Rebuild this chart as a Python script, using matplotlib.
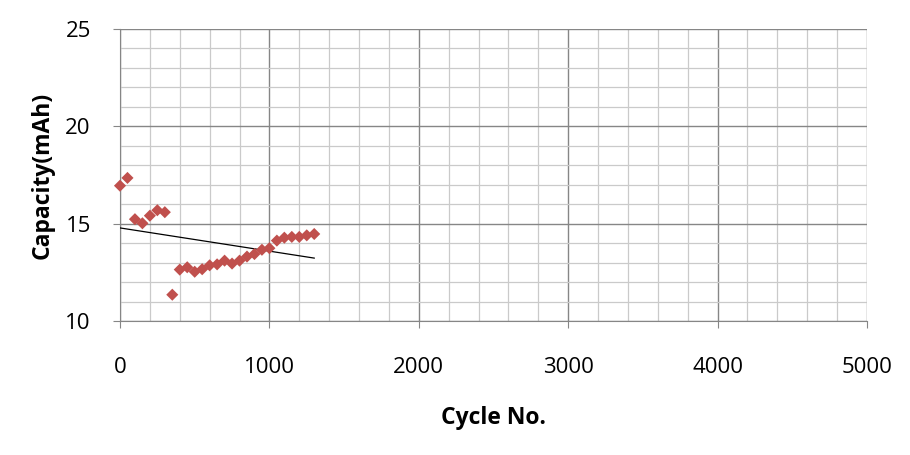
import numpy as np
import matplotlib
matplotlib.use("Agg")
from matplotlib import pyplot as plt
from matplotlib.ticker import MultipleLocator

# ciclos e capacidade
ciclos = [0, 50, 100, 150, 200, 250, 300, 350, 400, 450, 500, 550, 600, 650,
          700, 750, 800, 850, 900, 950, 1000, 1050, 1100, 1150, 1200, 1250, 1300]
capacidade = [16.95, 17.35, 15.23, 15.02, 15.41, 15.69, 15.59, 11.35, 12.64,
              12.76, 12.53, 12.66, 12.86, 12.91, 13.10, 12.95, 13.10, 13.31,
              13.44, 13.66, 13.74, 14.13, 14.28, 14.32, 14.32, 14.40, 14.47]

xticks = [0, 1000, 2000, 3000, 4000, 5000]
yticks = [10, 15, 20, 25]

plt.rcParams['font.family'] = ['Open Sans', 'DejaVu Sans']

fig = plt.figure(figsize=(9.1, 4.55), dpi=100)
ax = fig.add_axes([120/910, 1 - 321/455, (867-120)/910, (321-29)/455])

# linha de tendencia linear (como no Excel)
a, b = np.polyfit(ciclos, capacidade, 1)
xt = np.array([ciclos[0], ciclos[-1]])
ax.plot(xt, a*xt + b, color='black', lw=0.9, zorder=3)

ax.scatter(ciclos, capacidade, marker='D', s=38, c='#c0504d', edgecolors='none',
           zorder=4, clip_on=False)

ax.set_xlim(0, 5000)
ax.set_ylim(10, 25)
ax.set_xticks(xticks)
ax.set_yticks(yticks)
ax.xaxis.set_minor_locator(MultipleLocator(200))
ax.yaxis.set_minor_locator(MultipleLocator(1))
ax.grid(which='major', color='#868686', lw=1.0)
ax.grid(which='minor', color='#cacaca', lw=0.9)
ax.set_axisbelow(True)

for s in ['top', 'right']:
    ax.spines[s].set_visible(False)
ax.spines['left'].set_color('#868686')
ax.spines['bottom'].set_color('#868686')
ax.tick_params(which='major', direction='out', length=5, color='#868686', labelsize=16)
ax.tick_params(axis='x', which='major', pad=21)
ax.tick_params(axis='y', which='major', pad=16)
ax.tick_params(which='minor', length=0)

ax.set_xlabel('Cycle No.', fontsize=16.5, fontweight='bold', labelpad=20)
ax.set_ylabel('Capacity(mAh)', fontsize=16.5, fontweight='bold', labelpad=8)

fig.savefig('out.png', dpi=100)
